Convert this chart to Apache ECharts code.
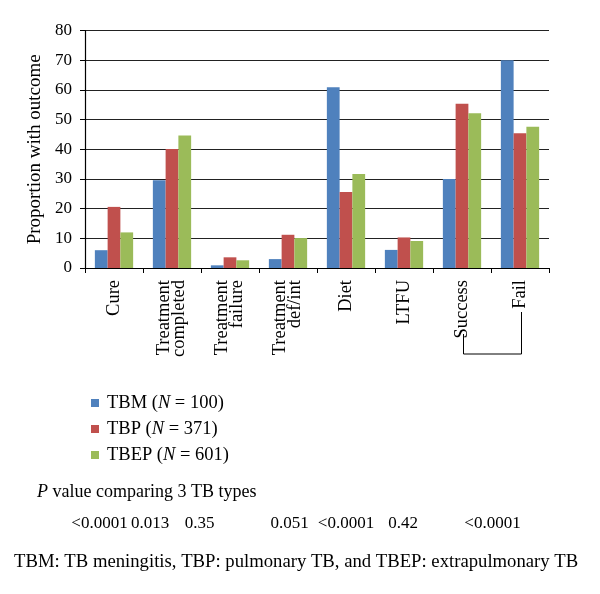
<!DOCTYPE html>
<html>
<head>
<meta charset="utf-8">
<script src="https://cdn.jsdelivr.net/npm/echarts@6/dist/echarts.min.js"></script>
<style>
html,body{margin:0;padding:0;background:#fff;}
#chart{width:600px;height:594px;}
</style>
</head>
<body>
<div id="chart"></div>
<script>
var categories = ['Cure', 'Treatment\ncompleted', 'Treatment\nfailure', 'Treatment\ndef/int', 'Diet', 'LTFU', 'Success', 'Fail'];
var seriesNames = ['TBM (N = 100)', 'TBP (N = 371)', 'TBEP (N = 601)'];
var tbmValues = [6, 29.6, 0.9, 3, 60.9, 6.1, 30, 70];
var tbpValues = [20.6, 40.1, 3.6, 11.2, 25.6, 10.3, 55.4, 45.4];
var tbepValues = [12, 44.7, 2.6, 10.1, 31.7, 9.1, 52.2, 47.6];
var pValues = ['<0.0001', '0.013', '0.35', '0.051', '<0.0001', '0.42', '<0.0001'];
var pValueX = [99.5, 150, 199.6, 289.5, 346, 403, 492.5];
var yAxisTitle = 'Proportion with outcome';
var pTitle = 'P value comparing 3 TB types';
var footnote = 'TBM: TB meningitis, TBP: pulmonary TB, and TBEP: extrapulmonary TB';

var FONT = '"Liberation Serif", "Times New Roman", serif';
var colors = ['#4F81BD', '#C0504D', '#9BBB59'];

var chart = echarts.init(document.getElementById('chart'), null, {renderer: 'canvas'});

function bar(name, data, color) {
  return {
    name: name, type: 'bar', data: data,
    itemStyle: {color: color},
    barGap: '0%', barCategoryGap: '34%',
    animation: false
  };
}

chart.setOption({
  animation: false,
  color: colors,
  grid: {left: 85, right: 51, top: 30.67, bottom: 326, containLabel: false},
  xAxis: {
    type: 'category',
    data: categories,
    axisLine: {lineStyle: {color: '#000', width: 1.2}},
    axisTick: {show: true, length: 5, lineStyle: {color: '#000'}},
    axisLabel: {
      rotate: 90, margin: 12, color: '#000',
      fontFamily: FONT, fontSize: 18.5, lineHeight: 15, interval: 0
    },
    splitLine: {show: false}
  },
  yAxis: {
    type: 'value', min: 0, max: 80, interval: 10,
    name: yAxisTitle, nameLocation: 'middle', nameRotate: 90, nameGap: 37,
    nameTextStyle: {fontFamily: FONT, fontSize: 19, color: '#000'},
    axisLine: {show: true, lineStyle: {color: '#000', width: 1.2}},
    axisTick: {show: true, length: 5, lineStyle: {color: '#000'}},
    axisLabel: {margin: 13, color: '#000', fontFamily: FONT, fontSize: 17},
    splitLine: {show: true, lineStyle: {color: '#222', width: 1}}
  },
  legend: {
    orient: 'vertical', left: 86, top: 388.5,
    itemWidth: 8, itemHeight: 8, itemGap: 7,
    icon: 'rect',
    data: seriesNames,
    formatter: function (name) { return name.replace('N', '{it|N}'); },
    textStyle: {
      fontFamily: FONT, fontSize: 18.5, color: '#000', padding: [0, 0, 0, 3],
      rich: {it: {fontFamily: FONT, fontSize: 18.5, fontStyle: 'italic', color: '#000'}}
    }
  },
  series: [
    bar(seriesNames[0], tbmValues, colors[0]),
    bar(seriesNames[1], tbpValues, colors[1]),
    bar(seriesNames[2], tbepValues, colors[2])
  ]
});

var xS = chart.convertToPixel({xAxisIndex: 0}, 'Success') + 1.5;
var xF = chart.convertToPixel({xAxisIndex: 0}, 'Fail') + 1.5;

var graphics = [];
graphics.push({
  type: 'polyline', silent: true,
  shape: {points: [[xS, 334], [xS, 354], [xF, 354], [xF, 312]]},
  style: {stroke: '#000', lineWidth: 1, fill: null}
});
graphics.push({
  type: 'text', x: 37, y: 492,
  style: {
    text: '{it|P}' + pTitle.slice(1),
    font: '18px ' + FONT, fill: '#000', align: 'left', verticalAlign: 'middle',
    rich: {it: {fontStyle: 'italic', fontSize: 18, fontFamily: FONT, fill: '#000'}}
  }
});
pValues.forEach(function (v, i) {
  graphics.push({
    type: 'text', x: pValueX[i], y: 524,
    style: {text: v, font: '17px ' + FONT, fill: '#000', align: 'center', verticalAlign: 'middle'}
  });
});
graphics.push({
  type: 'text', x: 14, y: 562,
  style: {text: footnote, font: '18.7px ' + FONT, fill: '#000', align: 'left', verticalAlign: 'middle'}
});

chart.setOption({graphic: graphics});
</script>
</body>
</html>
